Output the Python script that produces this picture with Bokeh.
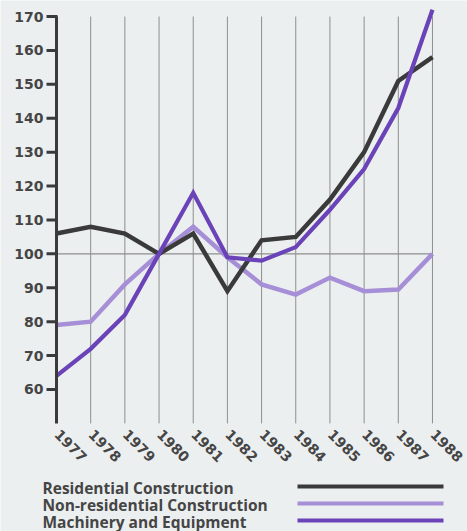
import math
from bokeh.plotting import figure
from bokeh.models import Range1d
from bokeh.embed import file_html
from bokeh.resources import INLINE
from bokeh.core.properties import value

# ---- data ----
years = [1977, 1978, 1979, 1980, 1981, 1982, 1983, 1984, 1985, 1986, 1987, 1988]
residential = [106, 108, 106, 100, 106, 89, 104, 105, 116, 130, 151, 158]
non_residential = [79, 80, 91, 100, 108, 99, 91, 88, 93, 89, 89.5, 100]
machinery = [64, 72, 82, 100, 118, 99, 98, 102, 113, 125, 143, 172]
y_ticks = [60, 70, 80, 90, 100, 110, 120, 130, 140, 150, 160, 170]
series_names = ["Residential Construction", "Non-residential Construction", "Machinery and Equipment"]
base_value = 100
axis_bottom = 50
axis_top = 170

# ---- style ----
BG = "#eceff0"
DARK = "#3a3a3a"
LIGHT_PURPLE = "#a68fd6"
PURPLE = "#6a43b8"
TXT = "#454545"
GRID = "#8e8e8e"
colors = [DARK, LIGHT_PURPLE, PURPLE]
W, H = 467, 531

# scale: pixels per unit (frame covers the whole canvas)
KX = 34.18          # px per year
KY = 3.3909         # px per index point
X0_PX, Y170_PX = 56, 16
xr = Range1d(years[0] - X0_PX / KX, years[0] + (W - X0_PX) / KX)
yr = Range1d(axis_top - (H - Y170_PX) / KY, axis_top + Y170_PX / KY)


def px_x(px):
    return xr.start + px / KX


def px_y(py):
    return yr.end - py / KY


p = figure(width=W, height=H, x_range=xr, y_range=yr,
           output_backend="svg", toolbar_location=None,
           x_axis_location=None, y_axis_location=None,
           min_border_left=0, min_border_right=0, min_border_top=0, min_border_bottom=0,
           background_fill_color=BG, border_fill_color=BG, outline_line_color=None)
p.grid.visible = False

n = len(years)
# vertical grid lines
p.segment(x0=years[1:], x1=years[1:], y0=[axis_bottom] * (n - 1), y1=[axis_top] * (n - 1),
          line_color=GRID, line_width=1)
# 100 reference line
p.segment(x0=[years[0]], x1=[years[-1]], y0=[base_value], y1=[base_value],
          line_color=GRID, line_width=1.2)

# series
for vals, c, w in [(non_residential, LIGHT_PURPLE, 4.5), (residential, DARK, 4.5), (machinery, PURPLE, 4.2)]:
    p.line(years, vals, line_color=c, line_width=w, line_join="miter")

# y axis line and ticks
p.segment(x0=[years[0]], x1=[years[0]], y0=[axis_bottom], y1=[axis_top],
          line_color=DARK, line_width=3)
p.segment(x0=[years[0] - 10 / KX] * len(y_ticks), x1=[years[0] + 1 / KX] * len(y_ticks),
          y0=y_ticks, y1=y_ticks, line_color=DARK, line_width=3)
p.text(x=[years[0] - 13 / KX] * len(y_ticks), y=y_ticks, text=[str(t) for t in y_ticks],
       text_font=value("DejaVu Sans"), text_font_style="bold", text_font_size="14px",
       text_color=TXT, text_align="right", text_baseline="middle")

# x labels (rotated)
p.text(x=[y + 4 / KX for y in years], y=[axis_bottom - 5 / KY] * n, text=[str(y) for y in years],
       angle=-math.pi / 4, text_font=value("DejaVu Sans"), text_font_style="bold",
       text_font_size="14px", text_color=TXT, text_align="left", text_baseline="top")

# ---- legend: text on the left, line sample on the right ----
rows = [487, 504, 521]
p.text(x=[px_x(42)] * 3, y=[px_y(r) for r in rows], text=series_names,
       text_font=value("Open Sans"), text_font_style="bold", text_font_size="15.5px",
       text_color=TXT, text_align="left", text_baseline="middle")
p.segment(x0=[px_x(297)] * 3, x1=[px_x(443)] * 3,
          y0=[px_y(r - 1) for r in rows], y1=[px_y(r - 1) for r in rows],
          line_color=colors, line_width=4)

open("out.html", "w").write(file_html(p, INLINE))
